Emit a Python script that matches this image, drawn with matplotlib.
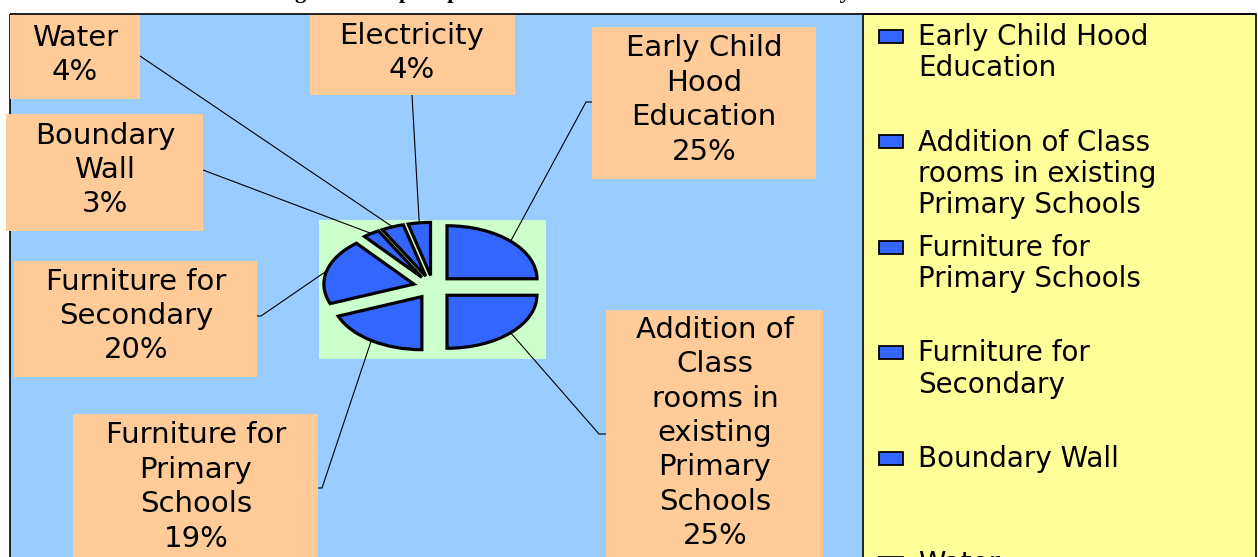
import textwrap
import numpy as np
import matplotlib
matplotlib.use("Agg")
import matplotlib.pyplot as plt
from matplotlib.patches import Rectangle

# ---------------- data ----------------
categories = ["Early Child Hood Education",
              "Addition of Class rooms in existing Primary Schools",
              "Furniture for Primary Schools",
              "Furniture for Secondary",
              "Boundary Wall",
              "Water",
              "Electricity"]
values = [25, 25, 19, 20, 3, 4, 4]
pie_labels = ["Early Child\nHood\nEducation",
              "Addition of\nClass\nrooms in\nexisting\nPrimary\nSchools",
              "Furniture for\nPrimary\nSchools",
              "Furniture for\nSecondary",
              "Boundary\nWall",
              "Water",
              "Electricity"]
title = "Budget for the plan period under the various heads of Activity"

# ---------------- layout (pixels) ----------------
W, H = 1258, 557
BLUE_BG = '#99CCFF'
LEG_BG = '#FFFF99'
GREEN = '#CCFFCC'
SLICE = '#3366FF'
BOX = '#FFCC99'
FONT = 'DejaVu Sans'

# label boxes: (x0, y0, x1, y1), text centre, leader start, leader elbow
label_layout = [
    dict(box=(592, 27, 816, 179), c=(704, 100), start=(592, 102), elbow=(586, 102)),
    dict(box=(606, 310, 823, 600), c=(715, 433), start=(606, 434), elbow=(599, 434)),
    dict(box=(73, 414, 318, 600), c=(196, 487), start=(318, 488), elbow=(322, 488)),
    dict(box=(14, 261, 257, 377), c=(136, 316), start=(257, 316), elbow=(261, 316)),
    dict(box=(6, 114, 203, 231), c=(105, 170), start=(203, 170), elbow=None),
    dict(box=(10, 15, 140, 99), c=(75, 55), start=(140, 56), elbow=None),
    dict(box=(310, 15, 515, 95), c=(412, 53), start=(412, 95), elbow=None),
]

fig = plt.figure(figsize=(W / 100, H / 100), dpi=100)
fig.patch.set_facecolor('white')


def px_axes(z):
    ax = fig.add_axes([0, 0, 1, 1], zorder=z)
    ax.set_xlim(0, W)
    ax.set_ylim(H, 0)
    ax.axis('off')
    ax.patch.set_alpha(0)
    return ax


bg = px_axes(0)
bg.add_patch(Rectangle((10, 14), 852, 600, facecolor=BLUE_BG, edgecolor='none'))
bg.plot([10, 10], [14, H + 5], color='black', lw=1.2, solid_capstyle='butt')
bg.plot([10, 1256], [14, 14], color='black', lw=1.2, solid_capstyle='butt')
bg.add_patch(Rectangle((862.5, 14), 393, 600, facecolor=LEG_BG, edgecolor='black', lw=1.2))
gx0, gx1, gy0, gy1 = 319, 546, 220, 359
bg.add_patch(Rectangle((gx0, gy0), gx1 - gx0, gy1 - gy0, facecolor=GREEN, edgecolor='none'))

# ---------------- pie ----------------
axp = fig.add_axes([gx0 / W, 1 - gy1 / H, (gx1 - gx0) / W, (gy1 - gy0) / H], zorder=1)
wedges, _ = axp.pie(values, explode=[0.22] * len(values), startangle=90,
                    counterclock=False, colors=[SLICE] * len(values),
                    wedgeprops=dict(edgecolor='black', linewidth=2.3, joinstyle='miter'))
axp.set_aspect('auto')
axp.set_xlim(-1.267, 1.256)
axp.set_ylim(-1.358, 1.264)
axp.axis('off')

top = px_axes(2)


def anchor(w):
    th = np.deg2rad((w.theta1 + w.theta2) / 2)
    cx, cy = w.center
    p = (cx + w.r * np.cos(th), cy + w.r * np.sin(th))
    disp = axp.transData.transform(p)
    return top.transData.inverted().transform(disp)


for w, lab, v, lay in zip(wedges, pie_labels, values, label_layout):
    x0, y0, x1, y1 = lay['box']
    top.add_patch(Rectangle((x0, y0), x1 - x0, y1 - y0, facecolor=BOX, edgecolor='none', zorder=3))
    top.text(lay['c'][0], lay['c'][1], f"{lab}\n{v}%", ha='center', va='center',
             fontsize=21, family=FONT, linespacing=1.29, zorder=4)
    ax_, ay_ = anchor(w)
    pts = [lay['start']]
    if lay['elbow'] is not None:
        pts.append(lay['elbow'])
    pts.append((ax_, ay_))
    xs, ys = zip(*pts)
    top.plot(xs, ys, color='black', lw=0.8, zorder=2)

# ---------------- legend ----------------
for i, cat in enumerate(categories):
    y = 37 + i * 105.4
    top.add_patch(Rectangle((879, y - 7), 24, 13, facecolor=SLICE, edgecolor='black', lw=1.3, zorder=3))
    lines = textwrap.fill(cat, 17).split('\n')
    n = len(lines)
    top.text(918, y + (n - 1) * 15.8, "\n".join(lines), ha='left', va='center',
             fontsize=20, family=FONT, linespacing=1.15, zorder=4)

# ---------------- title (mostly cut off at the top) ----------------
top.text(255, -2, title, ha='left', va='baseline', fontsize=16.2,
         family='Liberation Serif', fontweight='bold', zorder=5)

fig.savefig('out.png', dpi=100, facecolor='white')
